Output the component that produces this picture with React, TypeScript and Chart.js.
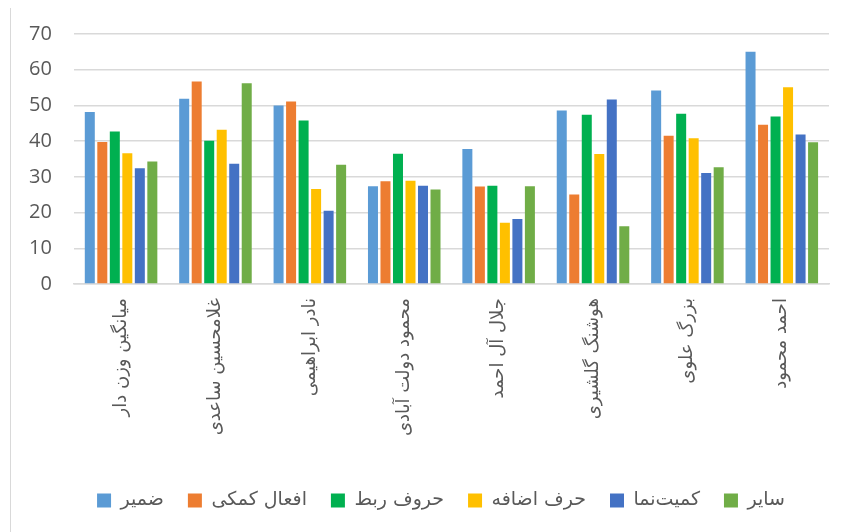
import React, { useEffect, useRef } from "react";
import { Chart, registerables } from "chart.js";

Chart.register(...registerables);

const categories = [
  "میانگین وزن دار",
  "غلامحسین ساعدی",
  "نادر ابراهیمی",
  "محمود دولت آبادی",
  "جلال آل احمد",
  "هوشنگ گلشیری",
  "بزرگ علوی",
  "احمد محمود",
];

const seriesNames = ["ضمیر", "افعال کمکی", "حروف ربط", "حرف اضافه", "کمیت‌نما", "سایر"];

const zamir = [48.2, 51.9, 50.0, 27.4, 37.8, 48.6, 54.2, 65.0];
const afal = [39.8, 56.7, 51.1, 28.8, 27.3, 25.1, 41.5, 44.6];
const horufRabt = [42.7, 40.1, 45.8, 36.5, 27.5, 47.4, 47.7, 46.9];
const harfEzafe = [36.6, 43.2, 26.6, 28.9, 17.2, 36.4, 40.8, 55.1];
const kamiyatnama = [32.4, 33.7, 20.5, 27.5, 18.2, 51.7, 31.1, 41.9];
const sayer = [34.3, 56.2, 33.4, 26.5, 27.4, 16.2, 32.7, 39.7];

const yTicks = [0, 10, 20, 30, 40, 50, 60, 70];

const colors = ["#5B9BD5", "#ED7D31", "#00B050", "#FFC000", "#4472C4", "#70AD47"];

const legendShift = {
  id: "legendShift",
  afterLayout(chart: any) {
    if (chart.legend) {
      chart.legend.left += 46;
      chart.legend.width = chart.legend.right - chart.legend.left;
    }
  },
};

export default function App() {
  const ref = useRef<HTMLCanvasElement | null>(null);

  useEffect(() => {
    if (!ref.current) return;
    const values = [zamir, afal, horufRabt, harfEzafe, kamiyatnama, sayer];
    const chart = new Chart(ref.current, {
      type: "bar",
      data: {
        labels: categories,
        datasets: seriesNames.map((name, i) => ({
          label: name,
          data: values[i],
          backgroundColor: colors[i],
          borderWidth: 0,
          categoryPercentage: 0.795,
          barPercentage: 0.8,
        })),
      },
      plugins: [legendShift],
      options: {
        animation: false,
        responsive: false,
        maintainAspectRatio: false,
        layout: { padding: { left: 7, right: 17, top: 26, bottom: 12 } },
        plugins: {
          tooltip: { enabled: false },
          legend: {
            position: "bottom",
            labels: {
              boxWidth: 14,
              boxHeight: 14,
              padding: 24,
              color: "#595959",
              font: { family: "'DejaVu Sans'", size: 19 },
            },
          },
        },
        scales: {
          x: {
            grid: { display: false, drawTicks: false },
            border: { color: "#d9d9d9", width: 1.5 },
            afterFit: (scale: any) => {
              scale.height += 17;
            },
            ticks: {
              minRotation: 90,
              maxRotation: 90,
              padding: 14,
              color: "#595959",
              font: { family: "'DejaVu Sans'", size: 18 },
            },
          },
          y: {
            min: 0,
            max: 70,
            afterBuildTicks: (axis: any) => {
              axis.ticks = yTicks.map((v) => ({ value: v }));
            },
            grid: { color: "#d9d9d9", lineWidth: 1.5, drawTicks: false },
            border: { display: false },
            ticks: {
              padding: 22,
              color: "#595959",
              font: { family: "'Open Sans'", size: 20 },
            },
          },
        },
      },
    });
    return () => chart.destroy();
  }, []);

  return (
    <div style={{ position: "absolute", left: 0, top: 0, width: 846, height: 532, background: "#fff" }}>
      <div style={{ position: "absolute", left: 10, top: 8, width: 0, height: 524, borderLeft: "1.5px solid #d9d9d9" }} />
      <canvas ref={ref} width={846} height={532} style={{ position: "absolute", left: 0, top: 0 }} />
    </div>
  );
}
